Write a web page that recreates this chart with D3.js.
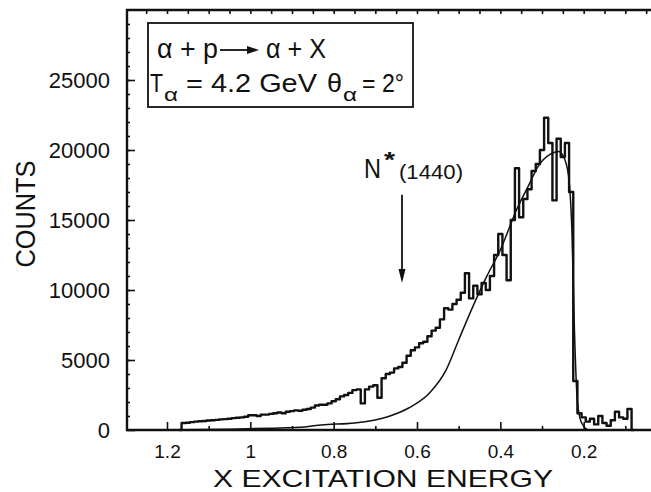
<!DOCTYPE html>
<html>
<head>
<meta charset="utf-8">
<script src="https://cdn.jsdelivr.net/npm/d3@7"></script>
<style>
  body { margin: 0; background: #fff; }
  text { font-family: "Liberation Sans", Arial, sans-serif; fill: #111; }
</style>
</head>
<body>
<svg width="651" height="492"></svg>
<script>
// histogram bins (bin centre, GeV) and counts
var binEnergy = [1.17, 1.16, 1.15, 1.14, 1.13, 1.12, 1.11, 1.10, 1.09, 1.08, 1.07, 1.06, 1.05, 1.04, 1.03, 1.02, 1.01,
  1.00, 0.99, 0.98, 0.97, 0.96, 0.95, 0.94, 0.93, 0.92, 0.91, 0.90, 0.89, 0.88, 0.87, 0.86, 0.85, 0.84, 0.83, 0.82, 0.81,
  0.80, 0.79, 0.78, 0.77, 0.76, 0.75, 0.74, 0.73, 0.72, 0.71, 0.70, 0.69, 0.68, 0.67, 0.66, 0.65, 0.64, 0.63, 0.62, 0.61,
  0.60, 0.59, 0.58, 0.57, 0.56, 0.55, 0.54, 0.53, 0.52, 0.51, 0.50, 0.49, 0.48, 0.47, 0.46, 0.45, 0.44, 0.43, 0.42, 0.41,
  0.40, 0.39, 0.38, 0.37, 0.36, 0.35, 0.34, 0.33, 0.32, 0.31, 0.30, 0.29, 0.28, 0.27, 0.26, 0.25, 0.24, 0.23, 0.22, 0.21,
  0.20, 0.19, 0.18, 0.17, 0.16, 0.15, 0.14, 0.13, 0.12, 0.11, 0.10, 0.09, 0.08];
var binCounts = [0, 500, 520, 560, 600, 620, 640, 680, 700, 720, 760, 780, 800, 850, 870, 900, 950,
  1050, 1050, 1000, 1100, 1100, 1150, 1200, 1250, 1200, 1300, 1350, 1400, 1380, 1450, 1500, 1600, 1750, 1800, 1800, 1900,
  2050, 2200, 2400, 2500, 2650, 2850, 2900, 1900, 2900, 3100, 3200, 2300, 3700, 4000, 4100, 4400, 4500, 4800, 5300, 5700,
  5900, 6200, 6300, 6700, 7100, 7300, 7900, 8700, 8600, 9000, 9300, 9800, 11200, 9400, 10300, 9700, 10500, 10000, 11000, 12500,
  14000, 12500, 10700, 15000, 18700, 15200, 16500, 17200, 18500, 19000, 20000, 22300, 20500, 16400, 20800, 19500, 20500, 17000, 3500, 1200,
  900, 600, 800, 400, 1000, 500, 300, 700, 1300, 900, 800, 1500, 0];

// smooth calculated curve
var modelEnergy = [1.16, 1.05, 0.95, 0.87, 0.83, 0.75, 0.67, 0.62, 0.57, 0.53, 0.50, 0.466, 0.433, 0.40,
  0.36, 0.33, 0.31, 0.28, 0.26, 0.245, 0.235, 0.228, 0.222, 0.215, 0.205, 0.19];
var modelCounts = [20, 60, 130, 220, 360, 500, 950, 1570, 2640, 4290, 6430, 8810, 10950, 12860,
  15800, 17600, 18800, 19700, 19900, 19300, 17800, 14000, 7000, 2000, 500, 0];

var xTicks = [1.2, 1, 0.8, 0.6, 0.4, 0.2];
var xTickLabels = ["1.2", "1", "0.8", "0.6", "0.4", "0.2"];
var yTicks = [0, 5000, 10000, 15000, 20000, 25000];

var svg = d3.select("svg"),
    plotLeft = 127, plotTop = 10, plotBottom = 430, plotRight = 667;

var x = d3.scaleLinear().domain([1.296, 0]).range([plotLeft, plotRight]);
var y = d3.scaleLinear().domain([0, 30000]).range([plotBottom, plotTop]);

// minor ticks
svg.append("g")
  .attr("transform", "translate(0," + plotTop + ")")
  .call(d3.axisTop(x).tickValues(d3.range(1.25, 0.04, -0.05)).tickSize(-4).tickFormat(""))
  .call(function(g) { g.select(".domain").remove(); });
svg.append("g")
  .attr("transform", "translate(0," + plotBottom + ")")
  .call(d3.axisBottom(x).tickValues([1.1, 0.9, 0.7, 0.5, 0.3, 0.1]).tickSize(-4).tickFormat(""))
  .call(function(g) { g.select(".domain").remove(); });
svg.append("g")
  .attr("transform", "translate(" + plotLeft + ",0)")
  .call(d3.axisLeft(y).tickValues(d3.range(1000, 30000, 1000)).tickSize(-3).tickFormat(""))
  .call(function(g) { g.select(".domain").remove(); });

// major ticks
var xAxis = svg.append("g")
  .attr("transform", "translate(0," + plotBottom + ")")
  .call(d3.axisBottom(x).tickValues(xTicks).tickSize(-8).tickPadding(15)
    .tickFormat(function(d, i) { return xTickLabels[i]; }));
xAxis.select(".domain").remove();
xAxis.selectAll("text").style("font-size", "19px").attr("fill", "#111");

var yAxis = svg.append("g")
  .attr("transform", "translate(" + plotLeft + ",0)")
  .call(d3.axisLeft(y).tickValues(yTicks).tickSize(-8).tickPadding(17).tickFormat(d3.format("d")));
yAxis.select(".domain").remove();
yAxis.selectAll("text").style("font-size", "22px").attr("fill", "#111");

svg.selectAll(".tick line").attr("stroke", "#111").attr("stroke-width", 1.6);

// frame (right side runs off the page)
svg.append("path")
  .attr("d", "M" + plotRight + "," + plotTop + "H" + plotLeft + "V" + plotBottom + "H" + plotRight)
  .attr("fill", "none")
  .attr("stroke", "#111")
  .attr("stroke-width", 2.4);

// calculated curve
var modelLine = d3.line()
  .x(function(d, i) { return x(modelEnergy[i]); })
  .y(function(d) { return y(d); })
  .curve(d3.curveMonotoneX);

svg.append("path")
  .datum(modelCounts)
  .attr("d", modelLine)
  .attr("fill", "none")
  .attr("stroke", "#111")
  .attr("stroke-width", 1.5);

// measured histogram
var histLine = d3.line()
  .x(function(d, i) { return x(binEnergy[i]); })
  .y(function(d) { return y(d); })
  .curve(d3.curveStep);

svg.append("path")
  .datum(binCounts)
  .attr("d", histLine)
  .attr("fill", "none")
  .attr("stroke", "#111")
  .attr("stroke-width", 2.4)
  .attr("stroke-linejoin", "round");

// reaction box
svg.append("rect")
  .attr("x", 148).attr("y", 23)
  .attr("width", 265).attr("height", 84)
  .attr("fill", "none")
  .attr("stroke", "#111")
  .attr("stroke-width", 1.8);

function label(txt, px, py, size, len) {
  var t = svg.append("text")
    .attr("x", px).attr("y", py)
    .style("font-size", size + "px")
    .text(txt);
  if (len) t.attr("textLength", len).attr("lengthAdjust", "spacingAndGlyphs");
  return t;
}

label("\u03b1 + p", 157, 58, 28, 61);
label("\u03b1 + X", 266, 58, 28, 60);
svg.append("line")
  .attr("x1", 220).attr("y1", 50).attr("x2", 250).attr("y2", 50)
  .attr("stroke", "#111").attr("stroke-width", 1.8);
svg.append("path")
  .attr("d", "M247,46L259,50L247,54Z")
  .attr("fill", "#111");

label("T", 150, 92, 25, 13);
label("\u03b1", 164, 101, 18, 14);
label("= 4.2  GeV", 186, 92, 25, 131);
label("\u03b8", 327, 92, 25, 15);
label("\u03b1", 343, 101, 18, 14);
label("= 2\u00b0", 362, 92, 25, 42);

// N*(1440) marker
var arrowE = 0.636;
label("N", 364, 178, 28, 17);
label("*", 384, 167, 22, 11).style("font-weight", "bold");
label("(1440)", 399, 179, 20, 64);
svg.append("line")
  .attr("x1", x(arrowE)).attr("y1", y(16800))
  .attr("x2", x(arrowE)).attr("y2", y(11400))
  .attr("stroke", "#111").attr("stroke-width", 1.8);
svg.append("path")
  .attr("d", "M" + (x(arrowE) - 3.5) + "," + y(11500) + "L" + x(arrowE) + "," + y(10500) + "L" + (x(arrowE) + 3.5) + "," + y(11500) + "Z")
  .attr("fill", "#111");

// axis titles
label("X EXCITATION ENERGY", 213, 487, 24, 340);
svg.append("text")
  .attr("transform", "translate(35,214) rotate(-90)")
  .attr("text-anchor", "middle")
  .attr("textLength", 107)
  .attr("lengthAdjust", "spacingAndGlyphs")
  .style("font-size", "27px")
  .text("COUNTS");
</script>
</body>
</html>
